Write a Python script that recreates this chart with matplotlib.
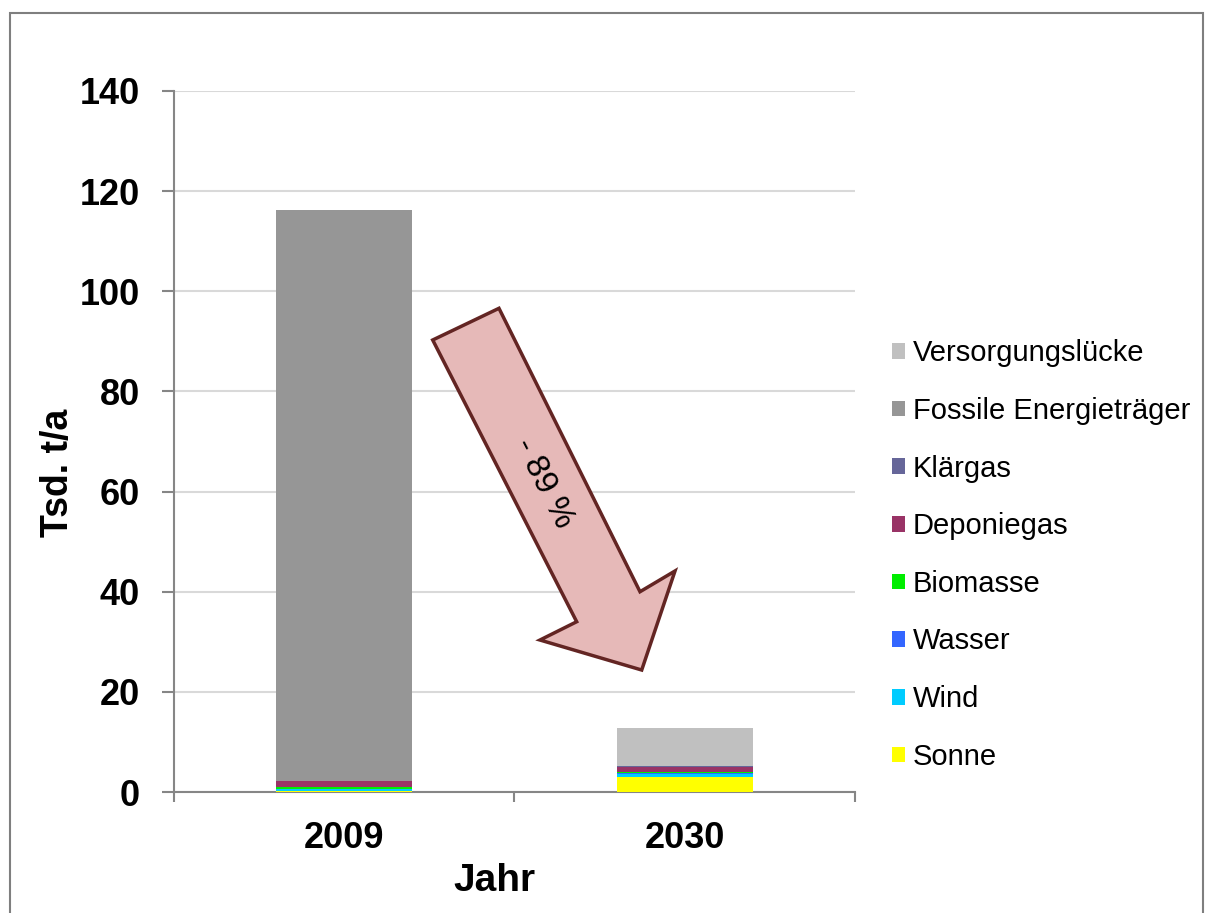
import matplotlib
matplotlib.use("Agg")
import matplotlib.pyplot as plt
from matplotlib.patches import Polygon, Rectangle, Patch
import numpy as np

plt.rcParams['font.family'] = ['Liberation Sans', 'DejaVu Sans']

years = ["2009", "2030"]
series = ["Sonne", "Wind", "Wasser", "Biomasse", "Deponiegas", "Klärgas",
          "Fossile Energieträger", "Versorgungslücke"]
sonne = [0.1, 2.9]
wind = [0.4, 0.6]
wasser = [0.1, 0.3]
biomasse = [0.3, 0.1]
deponiegas = [1.2, 1.1]
klaergas = [0.1, 0.1]
fossile = [114.0, 0.0]
versorgungsluecke = [0.0, 7.7]
colors = ["#FFFF00", "#00CCFF", "#3366FF", "#00EE00", "#993366", "#666699",
          "#969696", "#C0C0C0"]
yticks = [0, 20, 40, 60, 80, 100, 120, 140]

data = [sonne, wind, wasser, biomasse, deponiegas, klaergas, fossile, versorgungsluecke]

fig = plt.figure(figsize=(12.05, 9.13), dpi=100)
ax = fig.add_axes([174/1205, 121/913, 681/1205, 701/913])

x = np.arange(len(years))
bottom = np.zeros(len(years))
for vals, col in zip(data, colors):
    ax.bar(x, vals, width=0.4, bottom=bottom, color=col, edgecolor='none', zorder=3)
    bottom += np.array(vals)

ax.set_xlim(-0.5, 1.5)
ax.set_ylim(0, 140)
ax.set_yticks(yticks)
ax.set_yticklabels([str(t) for t in yticks], fontsize=26, fontweight='bold')
ax.yaxis.grid(True, color='#D9D9D9', linewidth=1.5, zorder=0)
ax.set_axisbelow(True)
for s in ['top', 'right']:
    ax.spines[s].set_visible(False)
for s in ['left', 'bottom']:
    ax.spines[s].set_color('#868686')
    ax.spines[s].set_linewidth(1.5)
ax.tick_params(axis='y', length=8.6, width=1.5, color='#868686', pad=16)

ax.set_xticks([-0.5, 0.5, 1.5])
ax.set_xticklabels(['', '', ''])
ax.tick_params(axis='x', which='major', length=7, width=1.5, color='#868686')
ax.set_xticks(x, minor=True)
ax.set_xticklabels(years, minor=True, fontsize=26, fontweight='bold')
ax.tick_params(axis='x', which='minor', length=0, pad=21)

ax.text((494 - 174) / 681, (792 - 881) / 701, "Jahr", transform=ax.transAxes,
        ha='center', va='center', fontsize=28, fontweight='bold')
ax.text((58 - 174) / 681, (792 - 473) / 701, "Tsd. t/a", transform=ax.transAxes,
        ha='center', va='center', rotation=90, fontsize=27, fontweight='bold')

arrow_pts = [(0.3799, 0.6448), (0.4772, 0.6900), (0.6843, 0.2857), (0.7357, 0.3153),
             (0.6868, 0.1740), (0.5374, 0.2168), (0.5913, 0.2429)]
ax.add_patch(Polygon(arrow_pts, closed=True, transform=ax.transAxes,
                     facecolor='#E6B9B8', edgecolor='#632523', linewidth=2.5,
                     zorder=5, clip_on=False))
ax.text(0.5419, 0.4408, "- 89 %", transform=ax.transAxes, ha='center', va='center',
        rotation=-63, fontsize=24, zorder=6)

handles = [Patch(facecolor=c, edgecolor='none') for c in colors][::-1]
labels = series[::-1]
fig.legend(handles, labels, loc='center left', bbox_to_anchor=(892/1205, 1 - 555/913),
           frameon=False, fontsize=21, handlelength=0.45, handleheight=0.45,
           handletextpad=0.27, labelspacing=1.017, borderpad=0, borderaxespad=0)

fig.add_artist(Rectangle((10/1205, -0.1), (1203 - 10)/1205, 1.1 - 13/913,
                         transform=fig.transFigure, fill=False,
                         edgecolor='#7F7F7F', linewidth=1.5))

fig.savefig("out.png", dpi=100)
